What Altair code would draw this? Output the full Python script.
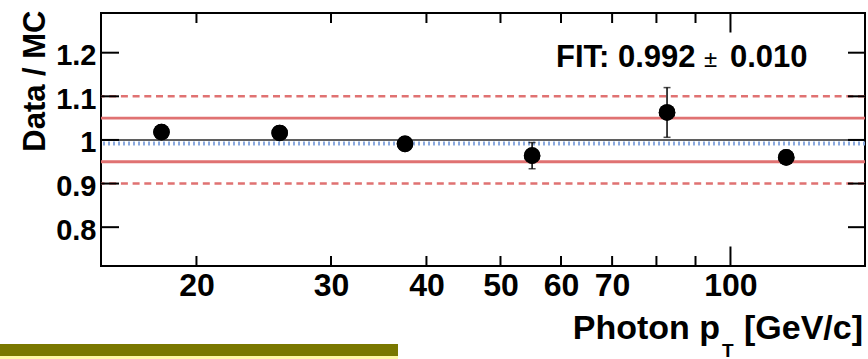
import altair as alt
import pandas as pd

# Data / MC ratio per photon pT bin
photon_pt = [18.0, 25.7, 37.5, 55.0, 82.6, 118.3]
ratio = [1.018, 1.016, 0.991, 0.964, 1.063, 0.960]
ratio_err = [0.012, 0.012, 0.010, 0.030, 0.057, 0.012]

# Constant fit to the ratio
fit_value = 0.992
fit_err = 0.010

# Reference bands
band_inner = [0.95, 1.05]
band_outer = [0.90, 1.10]
unity = [1.0]

# Axis ticks
x_labels = [20, 30, 40, 50, 60, 70, 100]
x_minor_ticks = [20, 30, 40, 50, 60, 70, 80, 90]
x_major_ticks = [100]
y_ticks = [0.8, 0.9, 1.0, 1.1, 1.2]

W, H = 764, 253
FONT = "Liberation Sans"

pts = pd.DataFrame({
    "pt": photon_pt,
    "ratio": ratio,
    "lo": [r - e for r, e in zip(ratio, ratio_err)],
    "hi": [r + e for r, e in zip(ratio, ratio_err)],
})

xscale = alt.Scale(type="log", domain=[15, 150], nice=False)
yscale = alt.Scale(domain=[0.711, 1.291], nice=False, zero=False)


def hlines(values, color, width, dash=None):
    kw = dict(color=color, strokeWidth=width)
    if dash:
        kw["strokeDash"] = dash
    return alt.Chart(pd.DataFrame({"v": values})).mark_rule(**kw).encode(
        y=alt.Y("v:Q", scale=yscale)
    )


outer = hlines(band_outer, "#e07272", 2.6, [7, 4.7])
inner = hlines(band_inner, "#e07272", 2.8)
one = hlines(unity, "#2a2a2a", 1.6)
fit = hlines([fit_value], "#8aa9de", 4, [2, 3])


# Frame ticks drawn inward
def xticks(values, length, top):
    y0, y1 = (0, length) if top else (H, H - length)
    return alt.Chart(pd.DataFrame({"t": values})).mark_rule(color="black", strokeWidth=2).encode(
        x=alt.X("t:Q", scale=xscale),
        y=alt.value(y0), y2=alt.value(y1),
    )


def yticks(left):
    x0, x1 = (0, 18) if left else (W - 17, W)
    return alt.Chart(pd.DataFrame({"t": y_ticks})).mark_rule(color="black", strokeWidth=2).encode(
        y=alt.Y("t:Q", scale=yscale),
        x=alt.value(x0), x2=alt.value(x1),
    )


ticks = [
    xticks(x_minor_ticks, 10, False), xticks(x_minor_ticks, 10, True),
    xticks(x_major_ticks, 19.5, False), xticks(x_major_ticks, 19.5, True),
    yticks(True), yticks(False),
]

base = alt.Chart(pts)

err_bars = base.mark_rule(color="black", strokeWidth=1.5).encode(
    x=alt.X("pt:Q", scale=xscale),
    y=alt.Y("lo:Q", scale=yscale),
    y2="hi:Q",
)
caps_hi = base.mark_tick(color="black", orient="horizontal", size=7, thickness=1.5).encode(
    x=alt.X("pt:Q", scale=xscale),
    y=alt.Y("hi:Q", scale=yscale),
)
caps_lo = base.mark_tick(color="black", orient="horizontal", size=7, thickness=1.5).encode(
    x=alt.X("pt:Q", scale=xscale),
    y=alt.Y("lo:Q", scale=yscale),
)

points = base.mark_circle(color="black", opacity=1, size=275).encode(
    x=alt.X(
        "pt:Q", scale=xscale,
        axis=alt.Axis(
            values=x_labels, format="d", ticks=False, tickSize=0, domain=False, grid=False,
            labelFont=FONT, labelFontWeight="bold", labelFontSize=32, labelColor="black",
            labelPadding=4, labelFlush=False, labelOverlap=False, title=None,
        ),
    ),
    y=alt.Y(
        "ratio:Q", scale=yscale,
        axis=alt.Axis(
            values=y_ticks, ticks=False, tickSize=0, domain=False, grid=False,
            labelFont=FONT, labelFontWeight="bold", labelFontSize=29, labelColor="black",
            labelPadding=5, labelOffset=3, labelOverlap=False,
            labelExpr="datum.value == 1 ? '1' : format(datum.value, '.1f')",
            title="Data / MC", titleFont=FONT, titleFontWeight="bold", titleFontSize=31,
            titleColor="black", titleAngle=-90, titleAlign="right",
            titleBaseline="alphabetic", titleX=-57, titleY=-3,
        ),
    ),
)


def label(text, x, y, size, align="left", weight="bold"):
    return alt.Chart(alt.Data(values=[{}])).mark_text(
        text=text, font=FONT, fontSize=size, fontWeight=weight, color="black",
        align=align, baseline="alphabetic",
    ).encode(x=alt.value(x), y=alt.value(y))


fit_text = [
    label(f"FIT: {fit_value:.3f}", 455, 53.7, 31),
    label("\u00b1", 603, 53.7, 24, weight="normal"),
    label(f"{fit_err:.3f}", 629, 53.7, 31),
]

x_title = [
    label("Photon p", 619, 326.3, 34, align="right"),
    label("T", 621, 344, 19),
    label("[GeV/c]", 643, 326.3, 34),
]

# Highlighter stroke along the lower left edge
strip = [
    alt.Chart(alt.Data(values=[{}])).mark_rect(color="#7a7800").encode(
        x=alt.value(-101), x2=alt.value(297), y=alt.value(331), y2=alt.value(343)
    ),
    alt.Chart(alt.Data(values=[{}])).mark_rect(color="#fff9a6").encode(
        x=alt.value(-101), x2=alt.value(297), y=alt.value(343), y2=alt.value(346)
    ),
]

chart = alt.layer(
    points, outer, inner, fit, one, *ticks, err_bars, caps_hi, caps_lo,
    points.encode(), *fit_text, *x_title, *strip,
).properties(
    width=W, height=H,
    padding={"left": 101, "top": 13, "right": 3, "bottom": 93},
    autosize="none",
    background="white",
).configure_view(stroke="black", strokeWidth=2)

chart.save("out.html", embed_options={"renderer": "svg", "actions": False})
